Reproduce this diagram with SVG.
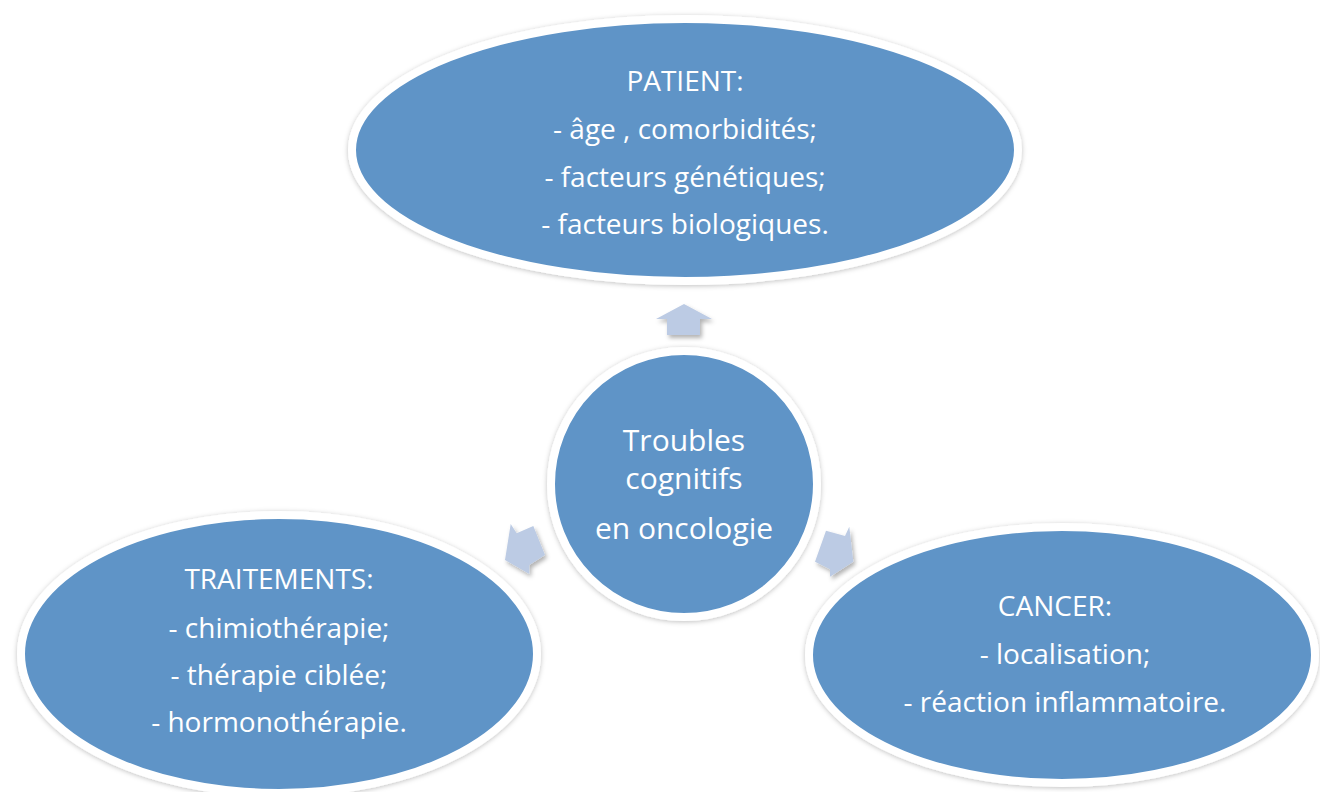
<svg xmlns="http://www.w3.org/2000/svg" width="1320" height="792" viewBox="0 0 1320 792">
<style>
.node{fill:#5f94c7;stroke:#ffffff;stroke-width:8;filter:url(#sh)}
.arrow{fill:#bccbe4;filter:url(#sh2)}
text{font-family:"Open Sans","Liberation Sans",sans-serif;font-size:28px;fill:#ffffff;text-anchor:middle}
.c{font-size:30px}
</style>
<defs>
<filter id="sh" x="-10%" y="-10%" width="120%" height="120%">
<feDropShadow dx="0" dy="1" stdDeviation="2.5" flood-color="#000" flood-opacity="0.25"/>
</filter>
<filter id="sh2" x="-30%" y="-30%" width="160%" height="160%">
<feDropShadow dx="2" dy="3" stdDeviation="2" flood-color="#000" flood-opacity="0.3"/>
</filter>
</defs>
<rect width="1320" height="792" fill="#ffffff"/>
<g id="connectors">
<polygon class="arrow" points="684,304 712,319 700,319 700,335 667,335 667,319 656,319"/>
<polygon class="arrow" points="510.7,524 516.7,533.3 533.3,526 545,555 529.3,565 529.3,574 505,560"/>
<polygon class="arrow" points="826,530.7 845,536 849.3,526.7 853.3,561.7 830,576.7 830,569.3 815,561.7"/>
</g>
<g id="patient">
<ellipse class="node" cx="685" cy="150" rx="333" ry="131"/>
<text x="685" y="91">PATIENT:</text>
<text x="685" y="139">- âge , comorbidités;</text>
<text x="685" y="187">- facteurs génétiques;</text>
<text x="685" y="234">- facteurs biologiques.</text>
</g>
<g id="center">
<circle class="node" cx="684" cy="484" r="133"/>
<text class="c" x="684" y="451">Troubles</text>
<text class="c" x="684" y="489">cognitifs</text>
<text class="c" x="684" y="539">en oncologie</text>
</g>
<g id="traitements">
<ellipse class="node" cx="279" cy="654" rx="258" ry="139"/>
<text x="279" y="589">TRAITEMENTS:</text>
<text x="279" y="638">- chimiothérapie;</text>
<text x="279" y="685">- thérapie ciblée;</text>
<text x="279" y="732">- hormonothérapie.</text>
</g>
<g id="cancer">
<ellipse class="node" cx="1062" cy="655" rx="253" ry="128"/>
<text x="1055" y="616">CANCER:</text>
<text x="1065" y="664">- localisation;</text>
<text x="1065" y="712">- réaction inflammatoire.</text>
</g>
</svg>
